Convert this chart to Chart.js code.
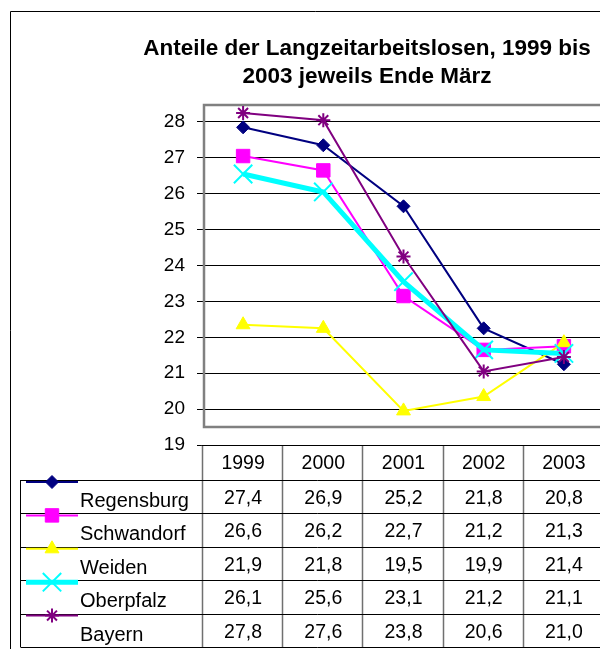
<!DOCTYPE html>
<html>
<head>
<meta charset="utf-8">
<script src="https://cdn.jsdelivr.net/npm/chart.js@4/dist/chart.umd.min.js"></script>
<style>
  html, body { margin: 0; padding: 0; background: #fff; overflow: hidden; }
  #chart { position: absolute; left: 0; top: 0; }
</style>
</head>
<body>
<canvas id="chart" width="619" height="649"></canvas>
<script>
// Langzeitarbeitslose, Anteile in % (Ende März)
const years = ['1999', '2000', '2001', '2002', '2003'];
const regensburg = [27.4, 26.9, 25.2, 21.8, 20.8];
const schwandorf = [26.6, 26.2, 22.7, 21.2, 21.3];
const weiden = [21.9, 21.8, 19.5, 19.9, 21.4];
const oberpfalz = [26.1, 25.6, 23.1, 21.2, 21.1];
const bayern = [27.8, 27.6, 23.8, 20.6, 21.0];
const seriesNames = ['Regensburg', 'Schwandorf', 'Weiden', 'Oberpfalz', 'Bayern'];
const yTickLabels = [19, 20, 21, 22, 23, 24, 25, 26, 27, 28];
const titleLines = ['Anteile der Langzeitarbeitslosen, 1999 bis', '2003 jeweils Ende März'];

// the Excel original draws its gridlines on the back wall, a bit below the points
const axisShift = 0.45;
const yMin = 18.55;
const yMax = 28.05;

const FONT = '"Liberation Sans", Arial, sans-serif';

const styles = [
  { color: '#000080', point: 'rectRot', radius: 6.5, border: 1, line: 2 },
  { color: '#FF00FF', point: 'rect', radius: 9.5, border: 1, line: 2 },
  { color: '#FFFF00', point: 'triangle', radius: 8, border: 1, line: 2 },
  { color: '#00FFFF', point: 'crossRot', radius: 13, border: 2, line: 5 },
  { color: '#800080', point: 'star', radius: 7, border: 2, line: 2 }
];

const allSeries = [regensburg, schwandorf, weiden, oberpfalz, bayern];

const datasets = allSeries.map((values, i) => ({
  label: seriesNames[i],
  data: values,
  borderColor: styles[i].color,
  backgroundColor: styles[i].color,
  borderWidth: styles[i].line,
  pointStyle: styles[i].point,
  pointRadius: styles[i].radius,
  pointBorderWidth: styles[i].border,
  pointBorderColor: styles[i].color,
  pointBackgroundColor: styles[i].color,
  tension: 0,
  clip: false,
  order: allSeries.length - i
}));

const fmt = v => v.toFixed(1).replace('.', ',');

const excelPlugin = {
  id: 'excelLook',
  beforeDatasetsDraw(chart) {
    const { ctx, chartArea, scales } = chart;
    const wallBottom = scales.y.getPixelForValue(19.5 - axisShift);
    ctx.save();
    ctx.strokeStyle = '#808080';
    ctx.lineWidth = 2.5;
    ctx.beginPath();
    ctx.moveTo(chartArea.right + 10, chartArea.top + 1);
    ctx.lineTo(chartArea.left + 1, chartArea.top + 1);
    ctx.lineTo(chartArea.left + 1, wallBottom);
    ctx.lineTo(chartArea.right + 10, wallBottom);
    ctx.stroke();
    ctx.restore();
  },
  afterDraw(chart) {
    const { ctx, chartArea, scales } = chart;
    const x = scales.x;
    const half = (x.getPixelForValue(1) - x.getPixelForValue(0)) / 2;
    const tLeft = x.getPixelForValue(0) - half - 1;
    const tRight = x.getPixelForValue(years.length - 1) + half;
    const legLeft = 20.5;
    const top = chartArea.bottom;
    const headH = 35;
    const rowH = 33.4;
    const bottom = top + headH + rowH * seriesNames.length;

    ctx.save();

    // outer chart border
    ctx.strokeStyle = '#000';
    ctx.lineWidth = 1;
    ctx.beginPath();
    ctx.moveTo(10.5, 700);
    ctx.lineTo(10.5, 11.5);
    ctx.lineTo(620, 11.5);
    ctx.stroke();

    // title
    ctx.fillStyle = '#000';
    ctx.font = 'bold 22.5px ' + FONT;
    ctx.textAlign = 'center';
    ctx.textBaseline = 'alphabetic';
    ctx.fillText(titleLines[0], 367, 55);
    ctx.fillText(titleLines[1], 367, 83);

    // table grid: vertical lines (gray)
    ctx.strokeStyle = '#707070';
    ctx.lineWidth = 1.5;
    ctx.beginPath();
    for (let i = 0; i <= years.length; i++) {
      const xp = Math.round(tLeft + i * 2 * half) + 0.5;
      ctx.moveTo(xp, top);
      ctx.lineTo(xp, bottom);
    }
    ctx.stroke();

    // horizontal lines (black)
    ctx.strokeStyle = '#000';
    ctx.lineWidth = 1;
    ctx.beginPath();
    ctx.moveTo(tLeft, Math.round(top) + 0.5);
    ctx.lineTo(tRight + 10, Math.round(top) + 0.5);
    for (let r = 0; r <= seriesNames.length; r++) {
      const yp = Math.round(top + headH + r * rowH) + 0.5;
      ctx.moveTo(legLeft, yp);
      ctx.lineTo(tRight + 10, yp);
    }
    ctx.moveTo(legLeft, top + headH);
    ctx.lineTo(legLeft, bottom);
    ctx.stroke();

    // header
    ctx.font = '19.5px ' + FONT;
    ctx.textAlign = 'center';
    years.forEach((yr, i) => {
      ctx.fillText(yr, x.getPixelForValue(i), top + 24);
    });

    // rows
    allSeries.forEach((values, r) => {
      const rowTop = top + headH + r * rowH;
      const st = styles[r];
      // legend key
      ctx.strokeStyle = st.color;
      ctx.lineWidth = st.line;
      ctx.beginPath();
      ctx.moveTo(26, rowTop + 2);
      ctx.lineTo(78, rowTop + 2);
      ctx.stroke();
      ctx.fillStyle = st.color;
      ctx.lineWidth = st.border;
      Chart.helpers.drawPoint(ctx, {
        pointStyle: st.point, radius: st.radius, rotation: 0, borderWidth: st.border
      }, 52, rowTop + 2);

      ctx.fillStyle = '#000';
      ctx.textAlign = 'left';
      ctx.font = '20px ' + FONT;
      ctx.fillText(seriesNames[r], 80, rowTop + 27);
      ctx.font = '19.5px ' + FONT;
      ctx.textAlign = 'center';
      values.forEach((v, i) => {
        ctx.fillText(fmt(v), x.getPixelForValue(i), rowTop + 24);
      });
    });

    ctx.restore();
  }
};

new Chart(document.getElementById('chart'), {
  type: 'line',
  data: { labels: years, datasets: datasets },
  options: {
    responsive: false,
    animation: false,
    layout: { padding: { left: 0, right: 7, top: 104, bottom: 204 } },
    plugins: {
      legend: { display: false },
      tooltip: { enabled: false },
      title: { display: false }
    },
    scales: {
      x: {
        type: 'category',
        offset: true,
        display: false,
        ticks: { display: false },
        afterFit(s) { s.paddingLeft = 0; s.paddingRight = 0; }
      },
      y: {
        min: yMin,
        max: yMax,
        afterFit(s) { s.width = 203; },
        afterBuildTicks(s) { s.ticks = yTickLabels.map(l => ({ value: l - axisShift })); },
        ticks: {
          autoSkip: false,
          callback: (v, i) => yTickLabels[i],
          color: '#000',
          font: { family: FONT, size: 19 },
          padding: 12
        },
        grid: { color: '#000', lineWidth: 1, tickLength: 6, tickColor: '#000' },
        border: { display: false }
      }
    }
  },
  plugins: [excelPlugin]
});
</script>
</body>
</html>
